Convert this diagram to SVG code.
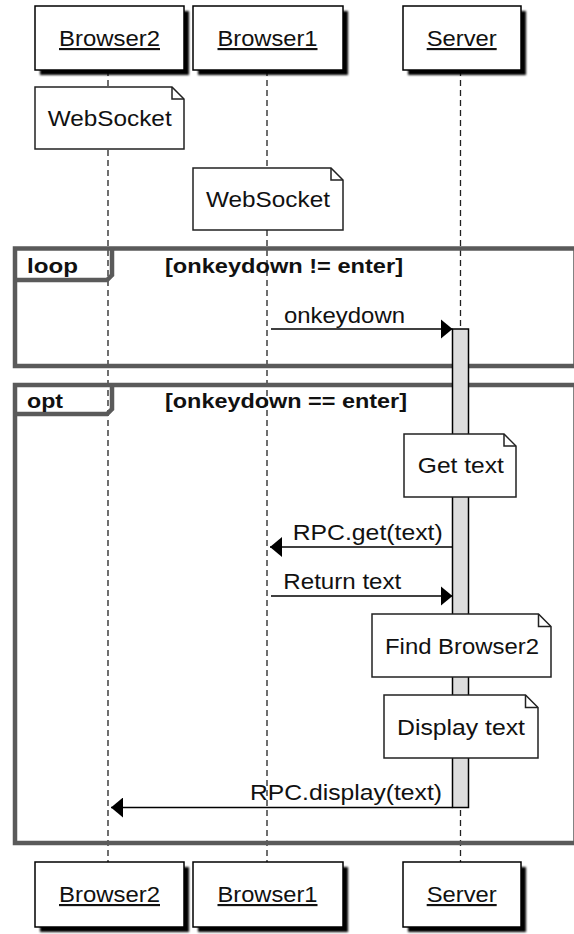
<svg xmlns="http://www.w3.org/2000/svg" width="574" height="934" viewBox="0 0 574 934">
  <defs>
    <filter id="soft" x="-10%" y="-10%" width="120%" height="120%">
      <feGaussianBlur stdDeviation="1"/>
    </filter>
    <marker id="head" markerUnits="userSpaceOnUse" markerWidth="12" markerHeight="20" refX="12" refY="10" orient="auto">
      <path d="M0,0 L12,10 L0,20 Z" fill="#000"/>
    </marker>
  </defs>
  <style>
    text { font-family: "Liberation Sans", Arial, sans-serif; fill: #111; }
    .lbl { font-size: 21.5px; }
    .head { font-size: 21.5px; text-anchor: middle; text-decoration: underline; }
    .note-t { font-size: 21.5px; text-anchor: middle; }
    .frame-t { font-size: 19.5px; font-weight: bold; }
    .box { fill: #fff; stroke: #000; stroke-width: 1.5; }
    .shadow { fill: #000; filter: url(#soft); }
    .note { fill: #fff; stroke: #222; stroke-width: 1.5; }
    .fold { fill: none; stroke: #222; stroke-width: 1.5; }
    .life { stroke: #222; stroke-width: 1.3; stroke-dasharray: 6 4; fill: none; }
    .frame { fill: none; stroke: #5a5a5a; stroke-width: 4.5; }
    .act { fill: #ddd; stroke: #000; stroke-width: 1.5; }
    .msg { stroke: #000; stroke-width: 1.5; fill: none; marker-end: url(#head); }
  </style>

  <!-- lifelines -->
  <g id="lifelines">
    <line class="life" x1="108" y1="70" x2="108" y2="862"/>
    <line class="life" x1="267" y1="70" x2="267" y2="862"/>
    <line class="life" x1="460.5" y1="70" x2="460.5" y2="862"/>
  </g>

  <!-- combined fragments -->
  <g id="frame-loop">
    <rect class="frame" x="15" y="248.5" width="560.5" height="117.5"/>
    <path class="frame" d="M15,280 H107 L112,275 V248.5"/>
    <text class="frame-t" x="27" y="273" textLength="51" lengthAdjust="spacingAndGlyphs">loop</text>
    <text class="frame-t" x="165" y="273" textLength="238" lengthAdjust="spacingAndGlyphs">[onkeydown != enter]</text>
  </g>
  <g id="frame-opt">
    <rect class="frame" x="15" y="385" width="560.5" height="458"/>
    <path class="frame" d="M15,414 H107 L112,409 V385"/>
    <text class="frame-t" x="27" y="408" textLength="36" lengthAdjust="spacingAndGlyphs">opt</text>
    <text class="frame-t" x="165" y="408" textLength="242" lengthAdjust="spacingAndGlyphs">[onkeydown == enter]</text>
  </g>

  <!-- Server activation bar -->
  <g id="server-activation">
    <rect class="act" x="452.5" y="329" width="16" height="478.5"/>
  </g>

  <!-- participants, top -->
  <g id="browser2-top">
    <rect class="shadow" x="40" y="11" width="149" height="64"/>
    <rect class="box" x="35" y="6" width="149" height="64"/>
    <text class="head" x="109.5" y="46" textLength="101" lengthAdjust="spacingAndGlyphs">Browser2</text>
  </g>
  <g id="browser1-top">
    <rect class="shadow" x="198" y="11" width="150" height="64"/>
    <rect class="box" x="193" y="6" width="150" height="64"/>
    <text class="head" x="267.5" y="46" textLength="100" lengthAdjust="spacingAndGlyphs">Browser1</text>
  </g>
  <g id="server-top">
    <rect class="shadow" x="408" y="11" width="118" height="64"/>
    <rect class="box" x="403" y="6" width="118" height="64"/>
    <text class="head" x="461.7" y="46" textLength="70" lengthAdjust="spacingAndGlyphs">Server</text>
  </g>

  <!-- participants, bottom -->
  <g id="browser2-bottom">
    <rect class="shadow" x="40" y="867" width="149" height="65"/>
    <rect class="box" x="35" y="862" width="149" height="65"/>
    <text class="head" x="109.5" y="902" textLength="101" lengthAdjust="spacingAndGlyphs">Browser2</text>
  </g>
  <g id="browser1-bottom">
    <rect class="shadow" x="198" y="867" width="150" height="65"/>
    <rect class="box" x="193" y="862" width="150" height="65"/>
    <text class="head" x="267.5" y="902" textLength="100" lengthAdjust="spacingAndGlyphs">Browser1</text>
  </g>
  <g id="server-bottom">
    <rect class="shadow" x="408" y="867" width="118" height="65"/>
    <rect class="box" x="403" y="862" width="118" height="65"/>
    <text class="head" x="461.7" y="902" textLength="70" lengthAdjust="spacingAndGlyphs">Server</text>
  </g>

  <!-- notes -->
  <g id="note-websocket-b2">
    <path class="note" d="M35,87 H172 L184,99 V149 H35 Z"/>
    <path class="fold" d="M172,87 V99 H184"/>
    <text class="note-t" x="109.7" y="126" textLength="124" lengthAdjust="spacingAndGlyphs">WebSocket</text>
  </g>
  <g id="note-websocket-b1">
    <path class="note" d="M193,168 H331 L343,180 V230 H193 Z"/>
    <path class="fold" d="M331,168 V180 H343"/>
    <text class="note-t" x="268" y="207" textLength="124" lengthAdjust="spacingAndGlyphs">WebSocket</text>
  </g>
  <g id="note-get-text">
    <path class="note" d="M404,434 H504 L516,446 V497 H404 Z"/>
    <path class="fold" d="M504,434 V446 H516"/>
    <text class="note-t" x="460.8" y="473" textLength="86" lengthAdjust="spacingAndGlyphs">Get text</text>
  </g>
  <g id="note-find-browser2">
    <path class="note" d="M372,614 H538.5 L551,626.5 V677 H372 Z"/>
    <path class="fold" d="M538.5,614 V626.5 H551"/>
    <text class="note-t" x="462" y="654" textLength="154" lengthAdjust="spacingAndGlyphs">Find Browser2</text>
  </g>
  <g id="note-display-text">
    <path class="note" d="M384,695 H525.5 L538,707.5 V758 H384 Z"/>
    <path class="fold" d="M525.5,695 V707.5 H538"/>
    <text class="note-t" x="461" y="735" textLength="128" lengthAdjust="spacingAndGlyphs">Display text</text>
  </g>

  <!-- messages -->
  <g id="connectors">
    <line class="msg" x1="271" y1="329" x2="452.5" y2="329"/>
    <text class="lbl" x="284" y="323" textLength="121" lengthAdjust="spacingAndGlyphs">onkeydown</text>

    <line class="msg" x1="452.5" y1="547" x2="270" y2="547"/>
    <text class="lbl" x="292.7" y="540" textLength="150" lengthAdjust="spacingAndGlyphs">RPC.get(text)</text>

    <line class="msg" x1="271" y1="596" x2="452.5" y2="596"/>
    <text class="lbl" x="283.3" y="589" textLength="118" lengthAdjust="spacingAndGlyphs">Return text</text>

    <line class="msg" x1="452.5" y1="807.5" x2="111" y2="807.5"/>
    <text class="lbl" x="250" y="800" textLength="192" lengthAdjust="spacingAndGlyphs">RPC.display(text)</text>
  </g>
</svg>
